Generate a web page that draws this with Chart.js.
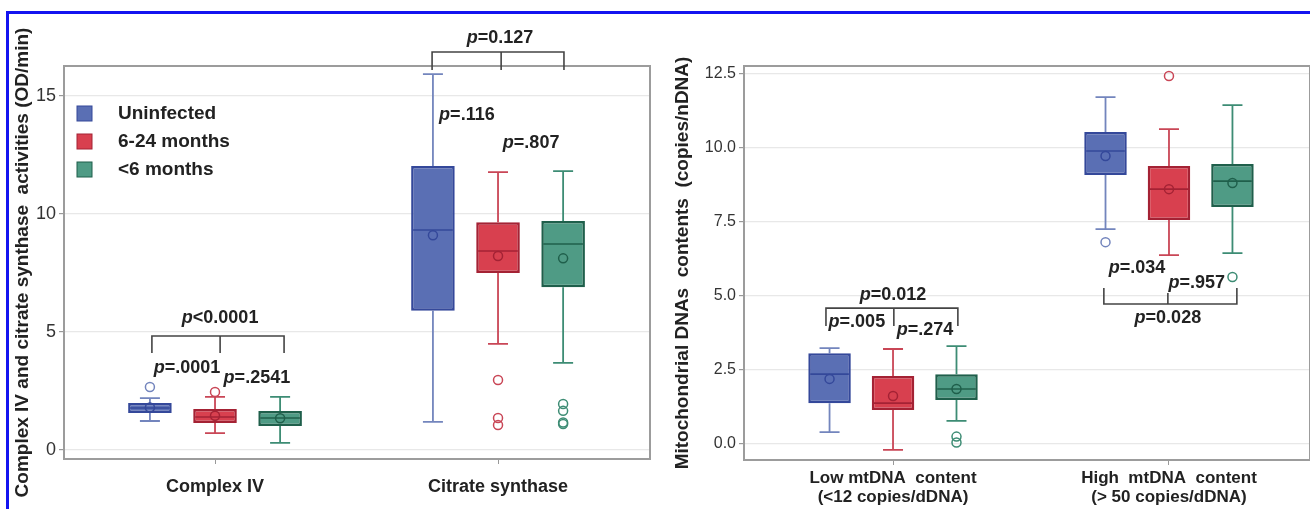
<!DOCTYPE html>
<html lang="en">
<head>
<meta charset="UTF-8">
<title>Complex IV, citrate synthase and mtDNA content</title>
<script src="https://cdn.jsdelivr.net/npm/chart.js@4.4.0/dist/chart.umd.min.js"></script>
<style>
    body { margin: 0; background: #fff; }
    #wrap { position: relative; width: 1310px; height: 509px; overflow: hidden; }
    #frame { position: absolute; left: 6px; top: 11px; width: 1400px; height: 600px;
             border-top: 3px solid #1414f0; border-left: 3px solid #1414f0; }
    .pane { position: absolute; top: 0; width: 655px; height: 509px; }
</style>
</head>
<body>
<div id="wrap">
    <div id="frame"></div>
    <div class="pane" style="left:0"><canvas id="enzymes"></canvas></div>
    <div class="pane" style="left:655px"><canvas id="mtdna"></canvas></div>
</div>
<script>
// groups (same for both panels)
var groups = ['Uninfected', '6-24 months', '<6 months'];
var fills = ['#5a6fb4', '#d8404f', '#4f9b85'];
var edges = ['#34489a', '#a42234', '#1f5f4b'];
var whiskerColors = ['#7385bd', '#c94656', '#3d8c74'];

// left panel: Complex IV / Citrate synthase (OD/min)
var enzymeCats = ['Complex IV', 'Citrate synthase'];
var enzymeQ1     = [[1.57, 5.90], [1.14, 7.50], [1.02, 6.90]];
var enzymeQ3     = [[1.99, 12.03], [1.74, 9.65], [1.65, 9.70]];
var enzymeMedian = [[1.78, 9.32], [1.40, 8.43], [1.36, 8.73]];
var enzymeMean   = [[1.80, 9.10], [1.45, 8.22], [1.35, 8.12]];
var enzymeLow    = [[1.23, 1.19], [0.72, 4.50], [0.30, 3.69]];
var enzymeHigh   = [[2.20, 15.93], [2.25, 11.77], [2.25, 11.82]];
var enzymeOut    = [[[2.67], []], [[2.46], [2.97, 1.36, 1.06]], [[], [1.95, 1.66, 1.17, 1.10]]];
var enzymeTicks  = [0, 5, 10, 15];

// right panel: mtDNA content (copies/nDNA)
var mtCats = [['Low mtDNA  content', '(<12 copies/dDNA)'], ['High  mtDNA  content', '(> 50 copies/dDNA)']];
var mtQ1     = [[1.38, 9.09], [1.15, 7.57], [1.49, 8.01]];
var mtQ3     = [[3.07, 10.54], [2.30, 9.39], [2.36, 9.46]];
var mtMedian = [[2.36, 9.90], [1.38, 8.61], [1.86, 8.88]];
var mtMean   = [[2.20, 9.73], [1.62, 8.61], [1.86, 8.82]];
var mtLow    = [[0.40, 7.26], [-0.20, 6.38], [0.78, 6.45]];
var mtHigh   = [[3.24, 11.72], [3.21, 10.64], [3.31, 11.45]];
var mtOut    = [[[], [6.82]], [[], [12.43]], [[0.25, 0.05], [5.64]]];
var mtTicks  = [0, 2.5, 5, 7.5, 10, 12.5];

// p-value labels and brackets, in axis units (x = category position)
var enzymeNotes = [
    {x: 0.018, y: 5.59, t: 'p<0.0001'},
    {x: -0.099, y: 3.47, t: 'p=.0001'},
    {x: 0.148, y: 3.05, t: 'p=.2541'},
    {x: 1.007, y: 17.46, t: 'p=0.127'},
    {x: 0.890, y: 14.19, t: 'p=.116'},
    {x: 1.117, y: 13.00, t: 'p=.807'}
];
var enzymeBrackets = [
    {x1: -0.223, xm: 0.018, x2: 0.244, y: 4.83, yEnd: 4.11, yMid: 4.11},
    {x1: 0.767, xm: 1.011, x2: 1.233, y: 16.86, yEnd: 16.10, yMid: 16.10}
];
var mtNotes = [
    {x: 0.0, y: 5.03, t: 'p=0.012'},
    {x: -0.131, y: 4.12, t: 'p=.005'},
    {x: 0.116, y: 3.85, t: 'p=.274'},
    {x: 0.884, y: 5.95, t: 'p=.034'},
    {x: 1.101, y: 5.44, t: 'p=.957'},
    {x: 0.996, y: 4.26, t: 'p=0.028'}
];
var mtBrackets = [
    {x1: -0.243, xm: 0.003, x2: 0.235, y: 4.59, yEnd: 3.99, yMid: 3.99},
    {x1: 0.764, xm: 0.996, x2: 1.246, y: 4.73, yEnd: 5.27, yMid: 5.10}
];

var FONT = '"Liberation Sans", Arial, sans-serif';

function drawP(ctx, text, x, y) {
    var rest = text.substring(1);
    ctx.font = 'italic bold 18px ' + FONT;
    var w1 = ctx.measureText('p').width;
    ctx.font = 'bold 18px ' + FONT;
    var w2 = ctx.measureText(rest).width;
    var left = x - (w1 + w2) / 2;
    ctx.fillStyle = '#222';
    ctx.textAlign = 'left';
    ctx.textBaseline = 'middle';
    ctx.font = 'italic bold 18px ' + FONT;
    ctx.fillText('p', left, y);
    ctx.font = 'bold 18px ' + FONT;
    ctx.fillText(rest, left + w1, y);
}

function extras(st, notes, brackets, showLegend) {
    return {
        id: 'boxExtras',
        beforeDatasetsDraw: function (chart) {
            var ctx = chart.ctx, ys = chart.scales.y, a = chart.chartArea;
            ctx.save();
            ctx.strokeStyle = '#9c9c9c';
            ctx.lineWidth = 2;
            ctx.strokeRect(a.left, a.top, a.right - a.left, a.bottom - a.top);
            // whiskers
            for (var d = 0; d < groups.length; d++) {
                var meta = chart.getDatasetMeta(d);
                for (var i = 0; i < meta.data.length; i++) {
                    var x = meta.data[i].x;
                    ctx.strokeStyle = whiskerColors[d];
                    ctx.lineWidth = 1.8;
                    ctx.beginPath();
                    ctx.moveTo(x, ys.getPixelForValue(st.high[d][i]));
                    ctx.lineTo(x, ys.getPixelForValue(st.q3[d][i]));
                    ctx.moveTo(x, ys.getPixelForValue(st.q1[d][i]));
                    ctx.lineTo(x, ys.getPixelForValue(st.low[d][i]));
                    ctx.moveTo(x - 10, ys.getPixelForValue(st.high[d][i]));
                    ctx.lineTo(x + 10, ys.getPixelForValue(st.high[d][i]));
                    ctx.moveTo(x - 10, ys.getPixelForValue(st.low[d][i]));
                    ctx.lineTo(x + 10, ys.getPixelForValue(st.low[d][i]));
                    ctx.stroke();
                }
            }
            ctx.restore();
        },
        afterDatasetsDraw: function (chart) {
            var ctx = chart.ctx, ys = chart.scales.y, xs = chart.scales.x, a = chart.chartArea;
            ctx.save();
            for (var d = 0; d < groups.length; d++) {
                var meta = chart.getDatasetMeta(d);
                for (var i = 0; i < meta.data.length; i++) {
                    var bar = meta.data[i];
                    var x = bar.x, hw = bar.width / 2 - 2;
                    ctx.strokeStyle = edges[d];
                    ctx.lineWidth = 1.6;
                    var ym = ys.getPixelForValue(st.median[d][i]);
                    ctx.beginPath();
                    ctx.moveTo(x - hw, ym);
                    ctx.lineTo(x + hw, ym);
                    ctx.stroke();
                    ctx.lineWidth = 1.5;
                    ctx.beginPath();
                    ctx.arc(x, ys.getPixelForValue(st.mean[d][i]), 4.5, 0, Math.PI * 2);
                    ctx.stroke();
                    ctx.strokeStyle = whiskerColors[d];
                    var outs = st.out[d][i];
                    for (var k = 0; k < outs.length; k++) {
                        ctx.beginPath();
                        ctx.arc(x, ys.getPixelForValue(outs[k]), 4.5, 0, Math.PI * 2);
                        ctx.stroke();
                    }
                }
            }
            // brackets
            ctx.strokeStyle = '#444';
            ctx.lineWidth = 1.6;
            brackets.forEach(function (b) {
                var x1 = xs.getPixelForValue(b.x1), x2 = xs.getPixelForValue(b.x2), xm = xs.getPixelForValue(b.xm);
                var y = ys.getPixelForValue(b.y), ye = ys.getPixelForValue(b.yEnd), ymid = ys.getPixelForValue(b.yMid);
                ctx.beginPath();
                ctx.moveTo(x1, ye);
                ctx.lineTo(x1, y);
                ctx.lineTo(x2, y);
                ctx.lineTo(x2, ye);
                ctx.moveTo(xm, y);
                ctx.lineTo(xm, ymid);
                ctx.stroke();
            });
            notes.forEach(function (n) {
                drawP(ctx, n.t, xs.getPixelForValue(n.x), ys.getPixelForValue(n.y));
            });
            if (showLegend) {
                for (var g = 0; g < groups.length; g++) {
                    var top = a.top + 40 + g * 28;
                    ctx.fillStyle = fills[g];
                    ctx.fillRect(a.left + 13, top, 15, 15);
                    ctx.strokeStyle = edges[g];
                    ctx.lineWidth = 1;
                    ctx.strokeRect(a.left + 13, top, 15, 15);
                    ctx.fillStyle = '#222';
                    ctx.font = 'bold 19px ' + FONT;
                    ctx.textAlign = 'left';
                    ctx.textBaseline = 'middle';
                    ctx.fillText(groups[g], a.left + 54, top + 8);
                }
            }
            ctx.restore();
        }
    };
}

function makeChart(id, cats, st, ticks, yMin, yMax, xMin, xMax, yWidth, xHeight, padRight, title, titlePad, tickFont, xFont, xPad, tickFmt, notes, brackets, showLegend) {
    var datasets = [];
    for (var d = 0; d < groups.length; d++) {
        var pts = [];
        for (var i = 0; i < cats.length; i++) {
            pts.push({x: i, y: [st.q1[d][i], st.q3[d][i]]});
        }
        datasets.push({
            label: groups[d],
            data: pts,
            backgroundColor: fills[d],
            borderColor: edges[d],
            borderWidth: 2.5,
            borderSkipped: false,
            categoryPercentage: 0.69,
            barPercentage: 0.67
        });
    }
    return new Chart(document.getElementById(id), {
        type: 'bar',
        data: {datasets: datasets},
        options: {
            responsive: true,
            maintainAspectRatio: false,
            animation: false,
            events: [],
            layout: {padding: {top: 66, right: padRight, left: 0, bottom: 0}},
            plugins: {legend: {display: false}, tooltip: {enabled: false}},
            scales: {
                x: {
                    type: 'linear',
                    offset: false,
                    min: xMin,
                    max: xMax,
                    afterBuildTicks: function (scale) {
                        scale.ticks = cats.map(function (c, i) { return {value: i}; });
                    },
                    afterFit: function (scale) { scale.height = xHeight; },
                    grid: {offset: false, drawOnChartArea: false, drawTicks: true, tickLength: 5, color: '#999'},
                    border: {display: false},
                    ticks: {
                        autoSkip: false,
                        maxRotation: 0,
                        padding: xPad,
                        color: '#222',
                        font: xFont,
                        callback: function (v) { return cats[v]; }
                    }
                },
                y: {
                    min: yMin,
                    max: yMax,
                    afterBuildTicks: function (scale) {
                        scale.ticks = ticks.map(function (v) { return {value: v}; });
                    },
                    afterFit: function (scale) { scale.width = yWidth; },
                    grid: {color: '#e8e8e8', lineWidth: 1.2, tickColor: '#999', tickLength: 5},
                    border: {display: false},
                    ticks: {color: '#333', padding: 3, font: tickFont, callback: tickFmt},
                    title: {
                        display: true,
                        text: title,
                        color: '#222',
                        font: {family: FONT, size: 19, weight: 'bold'},
                        padding: {top: titlePad, bottom: 0}
                    }
                }
            }
        },
        plugins: [extras(st, notes, brackets, showLegend)]
    });
}

Chart.defaults.font.family = FONT;

makeChart('enzymes', enzymeCats,
    {q1: enzymeQ1, q3: enzymeQ3, median: enzymeMedian, mean: enzymeMean, low: enzymeLow, high: enzymeHigh, out: enzymeOut},
    enzymeTicks, -0.38, 16.27, -0.5336, 1.537, 64, 50, 5,
    'Complex IV and citrate synthase  activities (OD/min)', 11,
    {family: FONT, size: 18}, {family: FONT, size: 18, weight: 'bold'}, 12,
    function (v) { return v; }, enzymeNotes, enzymeBrackets, true);

makeChart('mtdna', mtCats,
    {q1: mtQ1, q3: mtQ3, median: mtMedian, mean: mtMean, low: mtLow, high: mtHigh, out: mtOut},
    mtTicks, -0.54, 12.77, -0.540, 1.511, 89, 49, 0,
    'Mitochondrial DNAs  contents  (copies/nDNA)', 16,
    {family: FONT, size: 16}, {family: FONT, size: 17, weight: 'bold', lineHeight: 1.12}, 4,
    function (v) { return v.toFixed(1); }, mtNotes, mtBrackets, false);
</script>
</body>
</html>
